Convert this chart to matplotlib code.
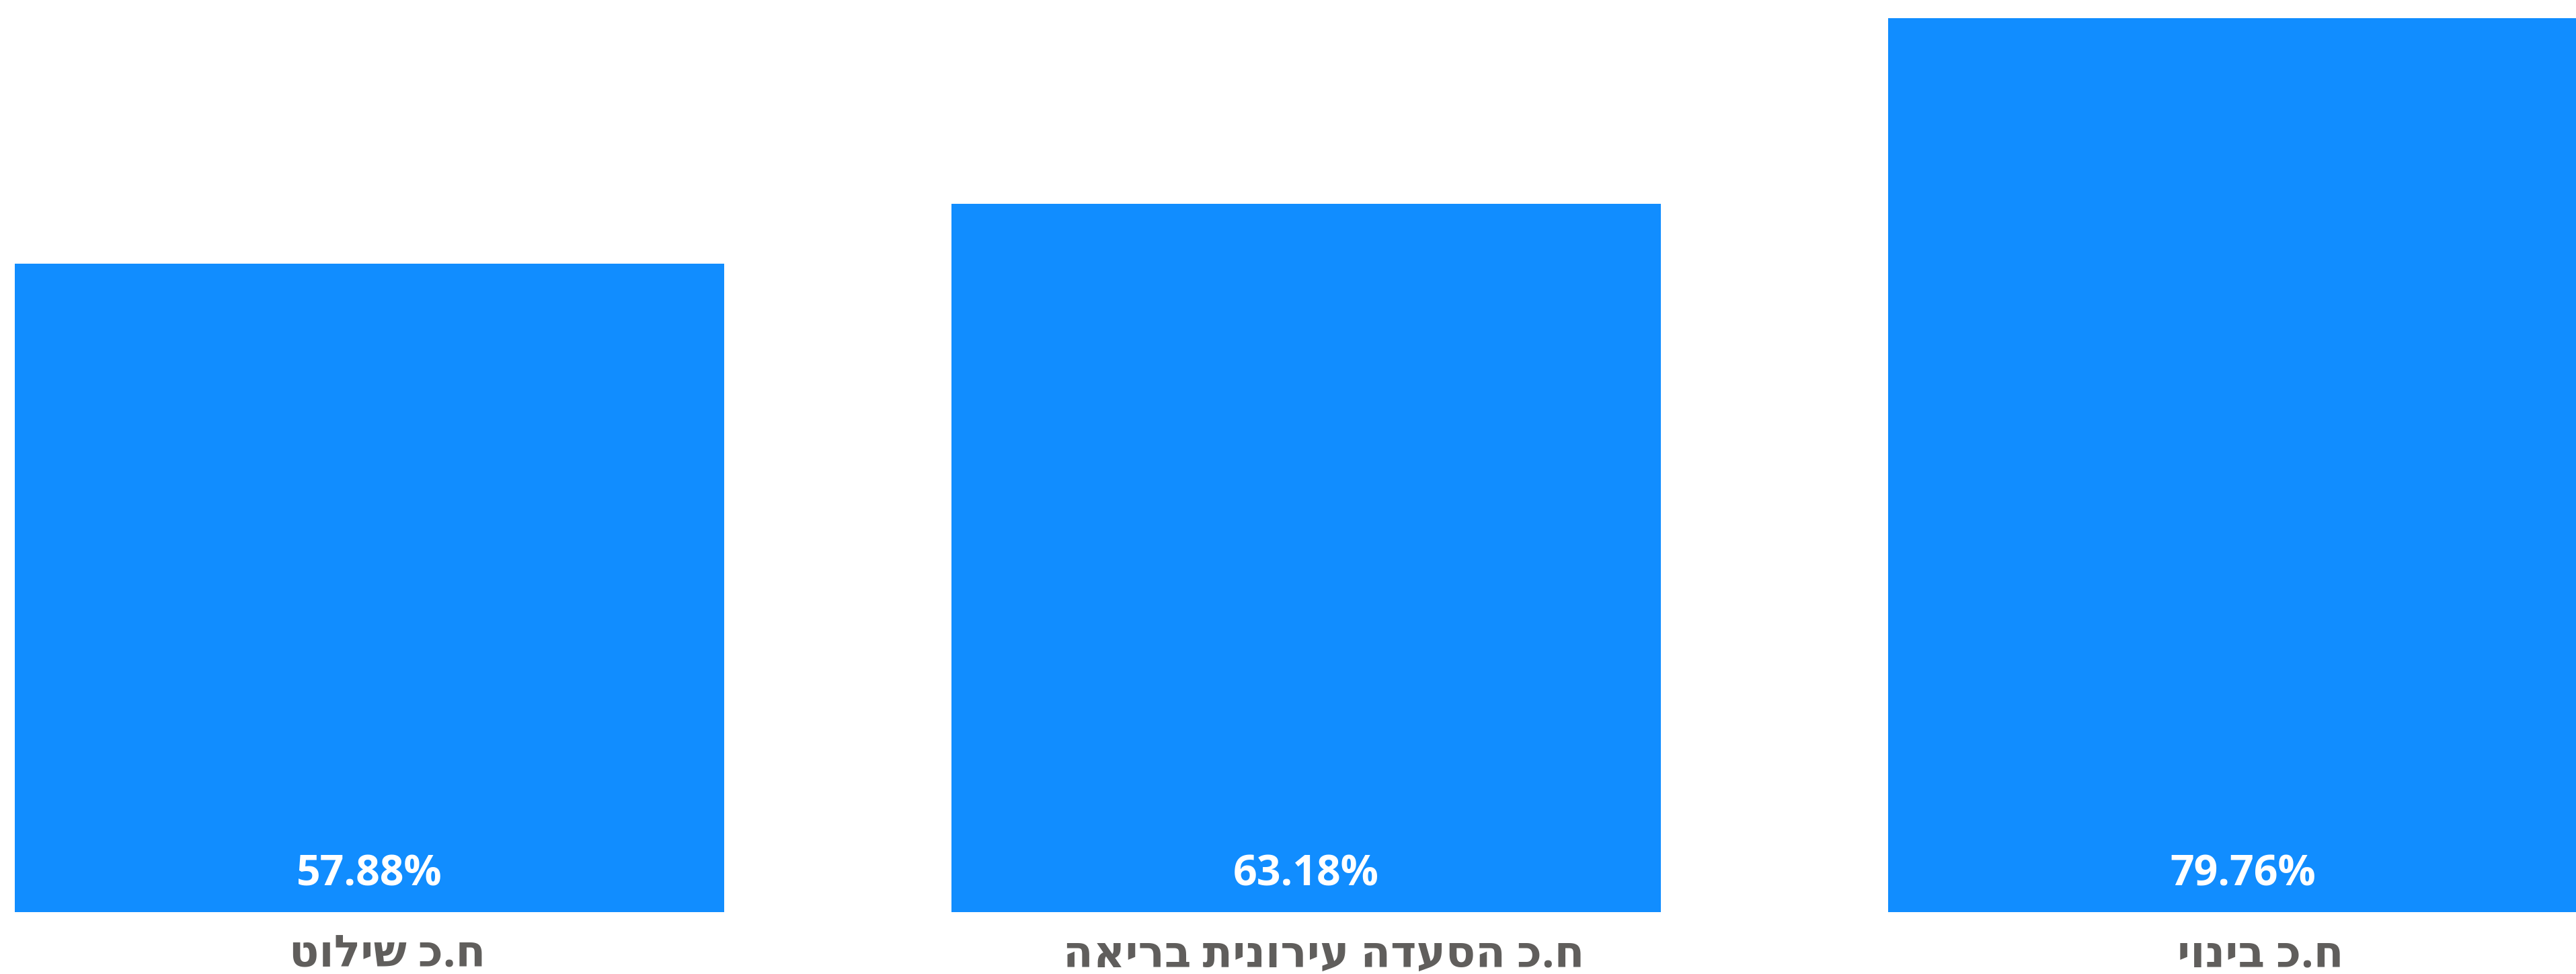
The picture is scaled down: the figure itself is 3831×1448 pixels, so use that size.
import matplotlib
matplotlib.use("Agg")
import matplotlib.pyplot as plt
import matplotlib.transforms as mtransforms

# data
categories = ["ח.כ שילוט", "ח.כ הסעדה עירונית בריאה", "ח.כ בינוי"]
values = [57.88, 63.18, 79.76]
value_labels = ["57.88%", "63.18%", "79.76%"]

bar_color = "#118DFF"
label_color = "#605E5C"
fonts = ["Open Sans", "DejaVu Sans"]

fig = plt.figure(figsize=(38.31, 14.48), dpi=100)
ax = fig.add_axes([0, 0.0635, 1, 0.9365])

x = list(range(len(categories)))
ax.bar(x, values, width=0.757, color=bar_color)

ax.set_xlim(-0.3945, 2.3557)
ax.set_ylim(0, 81.38)
ax.axis("off")

# value labels at the foot of each bar
for i, lab in enumerate(value_labels):
    ax.annotate(lab, xy=(i, 0), xytext=(0, 40), textcoords="offset points",
                ha="center", va="center", color="white", fontsize=45,
                fontweight="bold", family=fonts)

# category labels under the bars (hebrew reversed for display, no bidi in mpl)
trans = mtransforms.blended_transform_factory(ax.transData, fig.transFigure)
for i, cat in enumerate(categories):
    ax.annotate(cat[::-1], xy=(i, 1 - 1421 / 1448), xycoords=trans,
                xytext=(19, 0), textcoords="offset points",
                ha="center", va="center", color=label_color, fontsize=47,
                fontweight="bold", family=fonts)

fig.savefig("out.png", dpi=100)
